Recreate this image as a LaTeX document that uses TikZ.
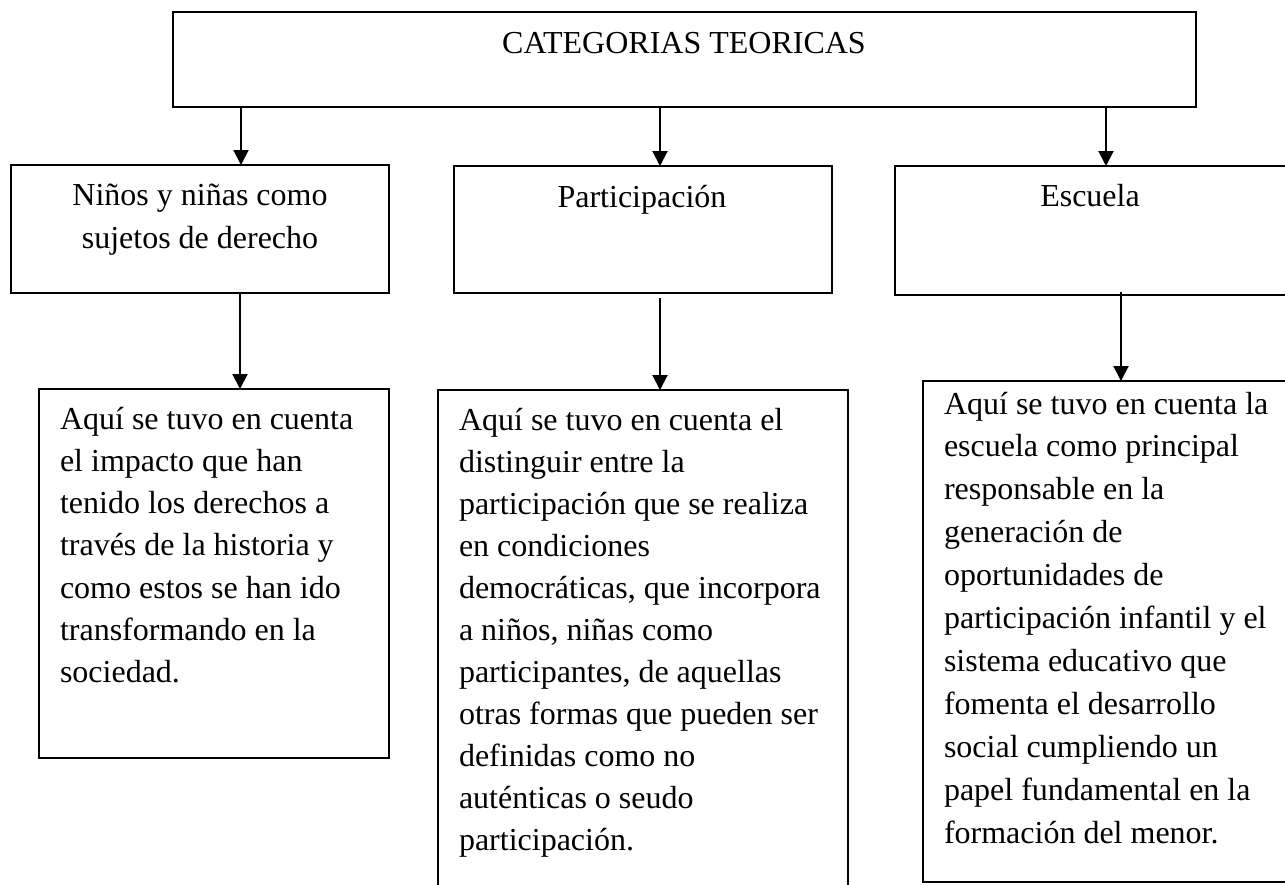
\documentclass[tikz,border=0pt]{standalone}
\usepackage{fontspec}
\setmainfont{Liberation Serif}
\usetikzlibrary{arrows.meta}
\begin{document}
\begin{tikzpicture}[x=1pt,y=-1pt,
  box/.style={draw=black, line width=2pt, rectangle, inner sep=0pt, outer sep=0pt, anchor=north west, fill=none},
  arr/.style={line width=2pt, draw=black, -{Triangle[length=15pt,width=15pt]}},
  txt/.style={inner sep=0pt, outer sep=0pt, font=\fontsize{32}{42}\selectfont},
  body/.style={txt, anchor=base west, text width=420pt, align=flush left}]
\clip (0,0) rectangle (1285,884);
\fill[white] (0,0) rectangle (1285,884);
% boxes
\node[box, minimum width=1023pt, minimum height=95pt] (top) at (173,12) {};
\node[box, minimum width=378pt, minimum height=128pt] (n1) at (11,165) {};
\node[box, minimum width=378pt, minimum height=127pt] (n2) at (454,166) {};
\node[box, minimum width=400pt, minimum height=129pt] (n3) at (895,166) {};
\node[box, minimum width=350pt, minimum height=369pt] (d1) at (39,389) {};
\node[box, minimum width=410pt, minimum height=520pt] (d2) at (438,390) {};
\node[box, minimum width=380pt, minimum height=501pt] (d3) at (923,381) {};
% texts
\node[txt, anchor=base] (ttop) at (684,53) {CATEGORIAS TEORICAS};
\node[txt, anchor=base, text width=370pt, align=flush center, font=\fontsize{32}{43}\selectfont] (tn1) at (200,205) {Niños y niñas como\\sujetos de derecho};
\node[txt, anchor=base] (tn2) at (642,207) {Participación};
\node[txt, anchor=base] (tn3) at (1090,206) {Escuela};
\node[body, font=\fontsize{32}{42.3}\selectfont] (td1) at (60,429) {Aquí se tuvo en cuenta\\el impacto que han\\tenido los derechos a\\través de la historia y\\como estos se han ido\\transformando en la\\sociedad.};
\node[body, font=\fontsize{32}{42}\selectfont] (td2) at (459,430) {Aquí se tuvo en cuenta el\\distinguir entre la\\participación que se realiza\\en condiciones\\democráticas, que incorpora\\a niños, niñas como\\participantes, de aquellas\\otras formas que pueden ser\\definidas como no\\auténticas o seudo\\participación.};
\node[body, font=\fontsize{32}{42.9}\selectfont] (td3) at (944,414) {Aquí se tuvo en cuenta la\\escuela como principal\\responsable en la\\generación de\\oportunidades de\\participación infantil y el\\sistema educativo que\\fomenta el desarrollo\\social cumpliendo un\\papel fundamental en la\\formación del menor.};
% arrow columns
\coordinate (c1) at (241,0);
\coordinate (c2) at (660,0);
\coordinate (c3) at (1106,0);
\coordinate (c4) at (240,0);
\coordinate (c5) at (660,0);
\coordinate (c6) at (1121,0);
% connectors
\draw[arr] (top.south -| c1) -- (n1.north -| c1);
\draw[arr] (top.south -| c2) -- (n2.north -| c2);
\draw[arr] (top.south -| c3) -- (n3.north -| c3);
\draw[arr] (n1.south -| c4) -- (d1.north -| c4);
\draw[arr] ([yshift=-5pt]n2.south -| c5) -- (d2.north -| c5);
\draw[arr] ([yshift=3pt]n3.south -| c6) -- (d3.north -| c6);
\end{tikzpicture}
\end{document}
